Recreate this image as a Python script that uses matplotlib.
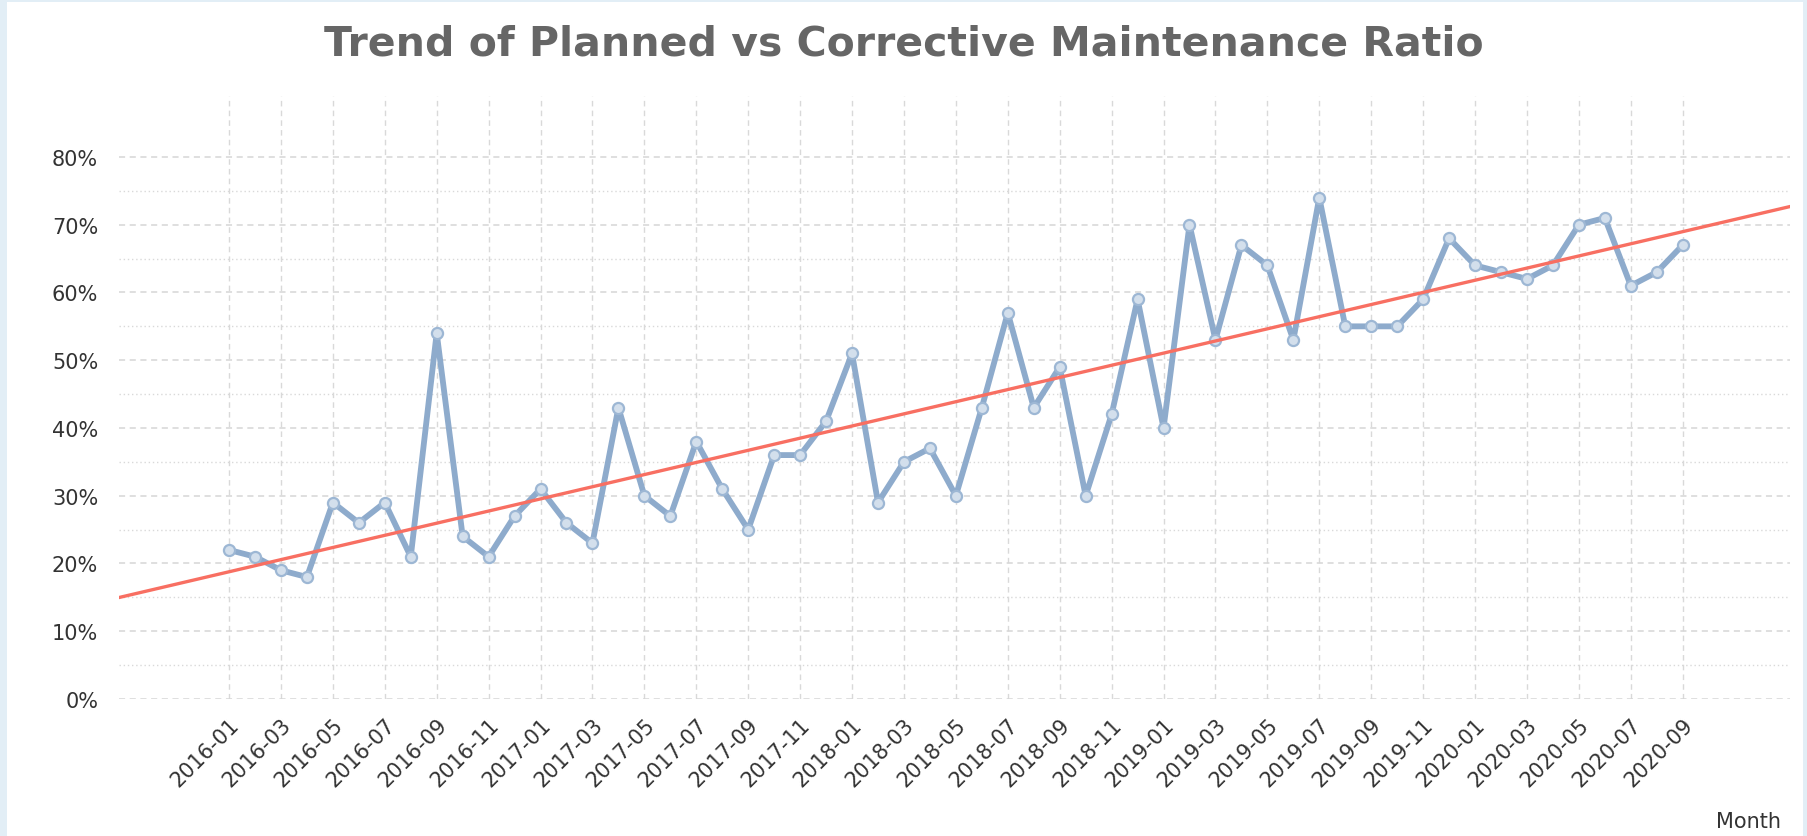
import numpy as np
import pandas as pd
import matplotlib
matplotlib.use('Agg')
import matplotlib.pyplot as plt
from matplotlib.patches import Rectangle
from matplotlib.ticker import FixedLocator, PercentFormatter

# monthly categories 2016-01 .. 2020-09
months = [str(p) for p in pd.period_range('2016-01', '2020-09', freq='M')]

# planned vs corrective maintenance ratio (%)
ratio = [22, 21, 19, 18, 29, 26, 29, 21, 54, 24,
         21, 27, 31, 26, 23, 43, 30, 27, 38, 31,
         25, 36, 36, 41, 51, 29, 35, 37, 30, 43,
         57, 43, 49, 30, 42, 59, 40, 70, 53, 67,
         64, 53, 74, 55, 55, 55, 59, 68, 64, 63,
         62, 64, 70, 71, 61, 63, 67]

y_ticks = [0, 10, 20, 30, 40, 50, 60, 70, 80]
y_minor = [5, 15, 25, 35, 45, 55, 65, 75]

title = 'Trend of Planned vs Corrective Maintenance Ratio'

x = np.arange(len(months))
y = np.array(ratio, dtype=float)

fig = plt.figure(figsize=(18.08, 8.37), dpi=100)
fig.patch.set_facecolor('#e2eef6')
# white panel on the light blue page
fig.patches.append(Rectangle((0.004, 0.0), 0.993, 0.996, transform=fig.transFigure,
                             facecolor='white', edgecolor='none', zorder=-10))

ax = fig.add_axes([0.0658, 0.1637, 0.9242, 0.7204])
ax.set_zorder(1)
ax.set_facecolor('none')
for s in ax.spines.values():
    s.set_visible(False)

xlim = (-4.24, 60.13)
ax.set_xlim(*xlim)
ax.set_ylim(0, 89)

# grid
ax.yaxis.set_major_locator(FixedLocator(y_ticks))
ax.yaxis.set_minor_locator(FixedLocator(y_minor))
ax.xaxis.set_major_locator(FixedLocator(x[::2]))
ax.set_xticklabels(months[::2])
ax.yaxis.set_major_formatter(PercentFormatter(decimals=0))

ax.grid(True, which='major', axis='y', color='#d6d6d6', linestyle=(0, (4, 3)), lw=1.1)
ax.grid(True, which='minor', axis='y', color='#d9d9d9', linestyle=(0, (1, 2)), lw=1.0)
ax.grid(True, which='major', axis='x', color='#d9d9d9', linestyle=(0, (4, 3)), lw=1.0)
ax.set_axisbelow(True)

ax.tick_params(axis='both', which='both', length=0)
ax.tick_params(axis='y', pad=15, labelsize=15, labelcolor='#333333')
ax.tick_params(axis='x', pad=11, labelsize=15, labelcolor='#333333')
for lab in ax.get_xticklabels():
    lab.set_rotation(45)
    lab.set_ha('right')
    lab.set_va('top')
    lab.set_rotation_mode('anchor')

# data line
ax.plot(x, y, color='#8eabcc', lw=4.2, marker='o', ms=8,
        mfc='#d3dfec', mec='#9db7d4', mew=1.6, zorder=3, solid_joinstyle='round')

# linear trend
k, b = np.polyfit(x, y, 1)
tx = np.array(xlim)
ax.plot(tx, k * tx + b, color='#f86f62', lw=2.4, zorder=4)

fig.text(0.5, 0.934, title, ha='center', va='baseline', fontsize=29.5,
         fontweight='bold', color='#666666')
fig.text(0.985, 0.006, 'Month', ha='right', va='bottom', fontsize=15, color='#333333')

fig.savefig('out.png', dpi=100, facecolor=fig.get_facecolor())
